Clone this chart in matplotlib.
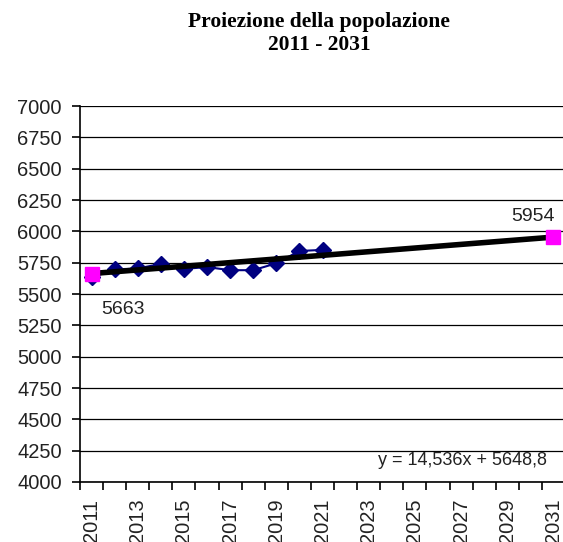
import numpy as np
from matplotlib import pyplot as plt
from matplotlib.ticker import MultipleLocator

# population data
years = [2011, 2012, 2013, 2014, 2015, 2016, 2017, 2018, 2019, 2020, 2021]
popolazione = [5632, 5696, 5704, 5740, 5700, 5715, 5690, 5690, 5745, 5843, 5852]

# trend line endpoints
trend_years = [2011, 2031]
trend_vals = [5663, 5954]
equation = "y = 14,536x + 5648,8"

tick_years = list(range(2011, 2032, 2))

fig = plt.figure(figsize=(5.63, 5.42), dpi=100)
ax = fig.add_axes([80/563, 1-482/542, 485/563, 376/542])

ax.plot(years, popolazione, color='#000080', lw=1.5, marker='D', ms=8, zorder=3)
ax.plot(trend_years, trend_vals, color='black', lw=4, solid_capstyle='butt', zorder=4)
ax.plot(trend_years, trend_vals, ls='none', marker='s', ms=9.5, color='#FF00FF', zorder=5)

ax.text(2011.4, trend_vals[0]-290, str(trend_vals[0]), fontsize=14,
        family='Liberation Sans', ha='left', va='center', color='#222222')
ax.text(2031.05, trend_vals[1]+165, str(trend_vals[1]), fontsize=14,
        family='Liberation Sans', ha='right', va='center', color='#222222')
ax.text(2030.7, 4170, equation, fontsize=13, family='Liberation Sans',
        ha='right', va='center', color='#222222')

ax.set_xlim(2010.5, 2031.5)
ax.set_ylim(4000, 7000)
ax.set_yticks(range(4000, 7001, 250))
ax.set_xticks(tick_years)
ax.set_xticklabels([str(y) for y in tick_years], rotation=90)
ax.xaxis.set_minor_locator(MultipleLocator(1, offset=0.5))
ax.tick_params(axis='x', which='major', length=0, pad=12)
ax.tick_params(axis='x', which='minor', length=5.5, direction='out', color='black', width=1.2)
ax.tick_params(axis='y', length=6, direction='out', color='black', width=1.2, pad=7)
for lab in ax.get_xticklabels() + ax.get_yticklabels():
    lab.set_fontfamily('Liberation Sans')
    lab.set_fontsize(14.5)
    lab.set_color('#222222')

ax.grid(axis='y', color='black', lw=0.9)
ax.set_axisbelow(True)
ax.spines['top'].set_visible(False)
ax.spines['right'].set_visible(False)
ax.spines['left'].set_linewidth(1.2)
ax.spines['bottom'].set_linewidth(1.2)

fig.text(0.567, 0.939, "Proiezione della popolazione\n2011 - 2031", ha='center', va='center',
         fontsize=15.5, fontweight='bold', family='Liberation Serif', linespacing=1.2)

fig.savefig('out.png', dpi=100)
